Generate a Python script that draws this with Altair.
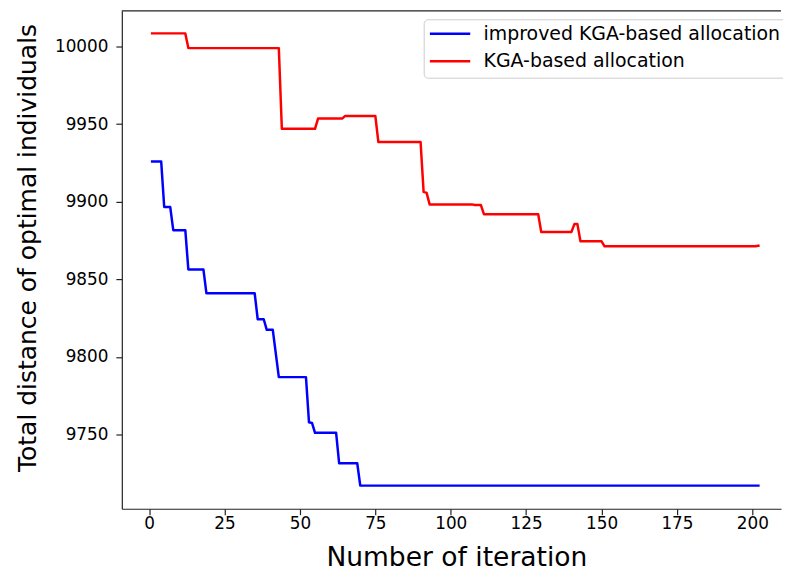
import altair as alt
import pandas as pd

# Series vertices (iteration, value)
blue_name = "improved KGA-based allocation"
red_name = "KGA-based allocation"

blue_iter = [1, 4, 5, 7, 8, 12, 13, 18, 19, 35, 36, 38, 39, 41, 43, 52, 53, 54, 55, 62, 63, 69, 70, 202]
blue_val = [9926, 9926, 9896.6, 9896.6, 9881.7, 9881.7, 9856.4, 9856.4, 9841, 9841,
            9824.3, 9824.3, 9817.5, 9817.5, 9787, 9787, 9757.9, 9757.5, 9751.1, 9751.1,
            9731.5, 9731.5, 9717.1, 9717.1]

red_iter = [1, 12, 13, 43, 44, 55, 56, 64, 65, 75, 76, 90, 91, 92, 93, 107, 108, 110, 111,
            129, 130, 140, 141, 142, 143, 150, 151, 201, 202]
red_val = [10008.5, 10008.5, 9999, 9999, 9947, 9947, 9953.6, 9953.6, 9955.3, 9955.3,
           9938.5, 9938.5, 9906.4, 9905.7, 9898.3, 9898.3, 9897.9, 9897.9, 9892, 9892,
           9880.5, 9880.5, 9885.6, 9885.6, 9874.5, 9874.5, 9871.3, 9871.3, 9871.7]

x_ticks = [0, 25, 50, 75, 100, 125, 150, 175, 200]
y_ticks = [9750, 9800, 9850, 9900, 9950, 10000]

df = pd.concat([
    pd.DataFrame({"iter": blue_iter, "val": blue_val, "series": blue_name, "order": range(len(blue_iter))}),
    pd.DataFrame({"iter": red_iter, "val": red_val, "series": red_name, "order": range(len(red_iter))}),
])

W, H = 666, 503
FONT = "DejaVu Sans"

lines = alt.Chart(df).mark_line(strokeWidth=2.5, strokeCap="square", strokeJoin="round").encode(
    x=alt.X("iter:Q",
            scale=alt.Scale(domain=[-9.05, 209.5], nice=False, zero=False),
            axis=alt.Axis(values=x_ticks, title="Number of iteration", grid=False, format="d",
                          labelFontSize=17, labelPadding=1, titleFontSize=26.8,
                          titleX=338, titleY=57.5, titleAlign="center", titleBaseline="alphabetic")),
    y=alt.Y("val:Q",
            scale=alt.Scale(domain=[9702.2, 10023], nice=False, zero=False),
            axis=alt.Axis(values=y_ticks, title="Total distance of optimal individuals", grid=False,
                          format="d", labelFontSize=17, labelPadding=8, titleFontSize=25.2,
                          titleAngle=270, titleX=-87, titleY=239, titleAlign="center",
                          titleBaseline="alphabetic")),
    color=alt.Color("series:N",
                    scale=alt.Scale(domain=[blue_name, red_name], range=["#0000ff", "#ff0000"]),
                    legend=alt.Legend(orient="none", legendX=305, legendY=8.5, title=None,
                                      symbolType="stroke", symbolSize=1681, symbolStrokeWidth=2.5,
                                      symbolOffset=-1.5, labelOffset=12, clipHeight=17, rowPadding=8,
                                      padding=6, labelFontSize=19.1, labelFont=FONT, labelColor="black",
                                      labelLimit=500, strokeColor="#cccccc", fillColor="white",
                                      cornerRadius=4)),
    order="order:Q",
)

top_border = alt.Chart(pd.DataFrame({"a": [0]})).mark_rule(color="#222222", strokeWidth=1.2).encode(
    x=alt.value(0), x2=alt.value(W), y=alt.value(0)
)

chart = alt.layer(lines, top_border).properties(
    width=W, height=H,
    autosize=alt.AutoSizeParams(type="none"),
    padding={"left": 115, "top": 0, "right": 2, "bottom": 60},
).configure_view(stroke=None).configure_axis(
    domainColor="#222222", domainWidth=1.2, tickColor="#222222", tickWidth=1.2, tickSize=6,
    labelFont=FONT, labelColor="black", titleFont=FONT, titleColor="black", titleFontWeight="normal",
)

chart.save("out.html", embed_options={"renderer": "svg", "actions": False})
